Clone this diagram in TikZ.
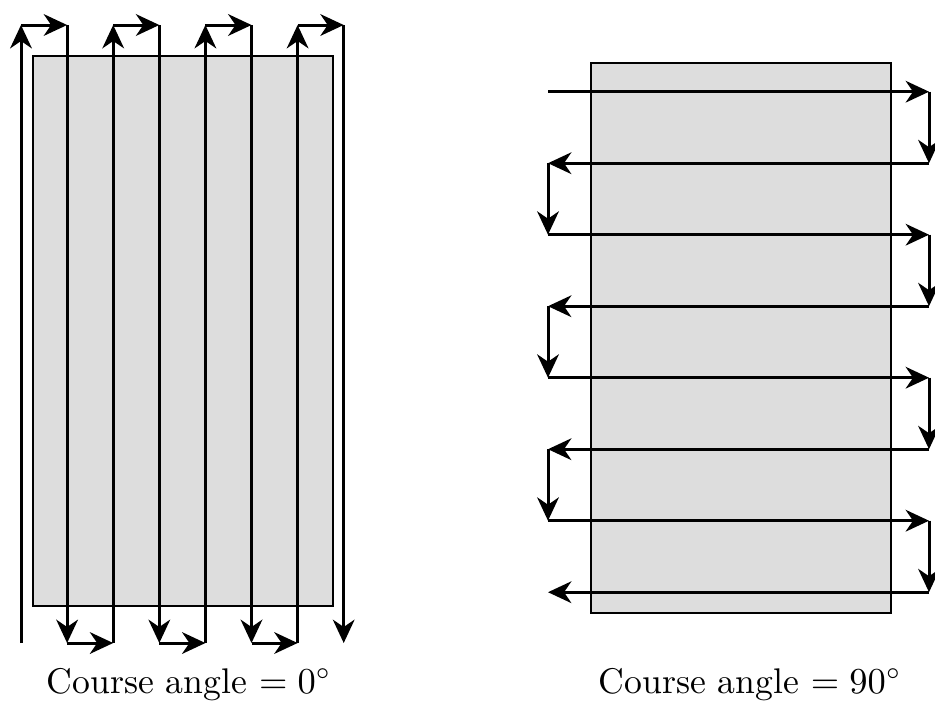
\documentclass[tikz,border=0pt]{standalone}
\usetikzlibrary{arrows.meta}
\definecolor{panelgray}{HTML}{DDDDDD}
\begin{document}
\begin{tikzpicture}
[x=0.3pt,y=-0.3pt,
 paneldecorate/.style={fill=panelgray,draw,line width=0.6pt},%
 pathdecorate/.style={-{Stealth[length=7pt,width=6.5pt,inset=2.2pt]},line width=0.9pt},%
 labeldecorate/.style={anchor=base,inner sep=0pt,font=\fontsize{10.7}{13}\selectfont}]
\useasboundingbox (0,0) rectangle (935,709);
%% panels
\draw[paneldecorate] (33,56) rectangle (333,606);
\draw[paneldecorate] (591,63) rectangle (891,613);
%% course angle 0: turning points
\foreach \i in {0,...,7}
{
  \coordinate (top\i) at (21+46.1*\i,25);
  \coordinate (bot\i) at (21+46.1*\i,643);
}
%% course angle 0: passes
\foreach \i/\j in {0/1,2/3,4/5,6/7}
{
  \draw[pathdecorate] (bot\i) -- (top\i);
  \draw[pathdecorate] (top\i) -- (top\j);
  \draw[pathdecorate] (top\j) -- (bot\j);
}
\foreach \i/\j in {1/2,3/4,5/6}
{
  \draw[pathdecorate] (bot\i) -- (bot\j);
}
%% course angle 90: turning points
\foreach \j in {0,...,7}
{
  \coordinate (west\j) at (548,91.7+71.5*\j);
  \coordinate (east\j) at (929,91.7+71.5*\j);
}
%% course angle 90: passes
\foreach \i/\j in {0/1,2/3,4/5,6/7}
{
  \draw[pathdecorate] (west\i) -- (east\i);
  \draw[pathdecorate] (east\i) -- (east\j);
  \draw[pathdecorate] (east\j) -- (west\j);
}
\foreach \i/\j in {1/2,3/4,5/6}
{
  \draw[pathdecorate] (west\i) -- (west\j);
}
%% labels
\node (label0) at (189,693) [labeldecorate] {Course angle $= 0^\circ$};
\node (label90) at (750,693) [labeldecorate] {Course angle $= 90^\circ$};
\end{tikzpicture}
\end{document}
